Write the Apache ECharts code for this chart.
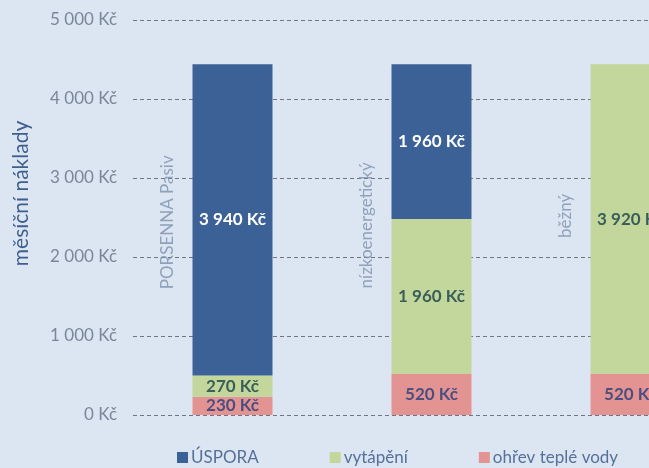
<!DOCTYPE html>
<html>
<head>
<meta charset="utf-8">
<script src="https://cdn.jsdelivr.net/npm/echarts@6/dist/echarts.min.js"></script>
<style>
  html, body { margin: 0; padding: 0; background: #dce6f2; overflow: hidden; }
  /* původní graf je vpravo oříznutý – plátno je širší než okno */
  #chart { width: 760px; height: 468px; }
</style>
</head>
<body>
<div id="chart"></div>
<script>
// kategorie (domy) a měsíční náklady v Kč
const categories = ["PORSENNA Pasiv", "nízkoenergetický", "běžný"];
const ohrevVody = [230, 520, 520];
const vytapeni = [270, 1960, 3920];
const uspora = [3940, 1960, 0];
const yTicks = [0, 1000, 2000, 3000, 4000, 5000];
const catLabelY = [2440, 2400, 2520]; // výška svislých popisků kategorií

const fmt = (v) => {
  const s = String(Math.round(v));
  return s.replace(/\B(?=(\d{3})+(?!\d))/g, " ") + " Kč";
};

const FONT = "Lato, 'Open Sans', sans-serif";

const chart = echarts.init(document.getElementById("chart"), null, { renderer: "canvas" });

const barLabel = (color) => ({
  show: true,
  position: "inside",
  color,
  fontFamily: FONT,
  fontSize: 17,
  fontWeight: "bold",
  formatter: (p) => (p.value > 0 ? fmt(p.value) : ""),
});

chart.setOption({
  animation: false,
  backgroundColor: "#dce6f2",
  textStyle: { fontFamily: FONT },
  grid: { left: 133, top: 20, width: 597, height: 395, containLabel: false },
  legend: {
    left: 172,
    top: 444,
    itemWidth: 11,
    itemHeight: 11,
    itemGap: 71,
    icon: "rect",
    textStyle: { color: "#56709a", fontSize: 17, fontFamily: FONT, padding: [0, 0, 0, -2] },
    data: ["ÚSPORA", "vytápění", "ohřev teplé vody"],
  },
  xAxis: {
    type: "category",
    data: categories,
    axisLine: { show: false },
    axisTick: { show: false },
    axisLabel: { show: false },
  },
  yAxis: {
    type: "value",
    min: yTicks[0],
    max: yTicks[yTicks.length - 1],
    interval: 1000,
    name: "měsíční náklady",
    nameLocation: "middle",
    nameGap: 101,
    nameRotate: 90,
    nameTextStyle: { color: "#3f5f8f", fontSize: 21, fontFamily: FONT, padding: [0, 0, 0, 48] },
    axisLine: { show: false },
    axisTick: { show: false },
    axisLabel: { color: "#7a8699", fontSize: 17, margin: 16, formatter: fmt },
    splitLine: { lineStyle: { color: "#6f7680", width: 1, type: [4, 3] } },
  },
  series: [
    {
      name: "ohřev teplé vody",
      type: "bar",
      stack: "a",
      barWidth: 80,
      data: ohrevVody,
      itemStyle: { color: "#e39391" },
      label: barLabel("#4b4f80"),
    },
    {
      name: "vytápění",
      type: "bar",
      stack: "a",
      data: vytapeni,
      itemStyle: { color: "#c3d69b" },
      label: barLabel("#3a5f5a"),
    },
    {
      name: "ÚSPORA",
      type: "bar",
      stack: "a",
      data: uspora,
      itemStyle: { color: "#3b6196" },
      label: barLabel("#ffffff"),
    },
    {
      name: "popisky",
      type: "scatter",
      symbolSize: 1,
      itemStyle: { color: "rgba(0,0,0,0)" },
      silent: true,
      z: 1,
      data: catLabelY,
      label: {
        show: true,
        position: "inside",
        rotate: 90,
        offset: [0, -65],
        color: "#7d90ad",
        fontSize: 17,
        fontFamily: FONT,
        formatter: (p) => categories[p.dataIndex],
      },
    },
  ],
});
</script>
</body>
</html>
